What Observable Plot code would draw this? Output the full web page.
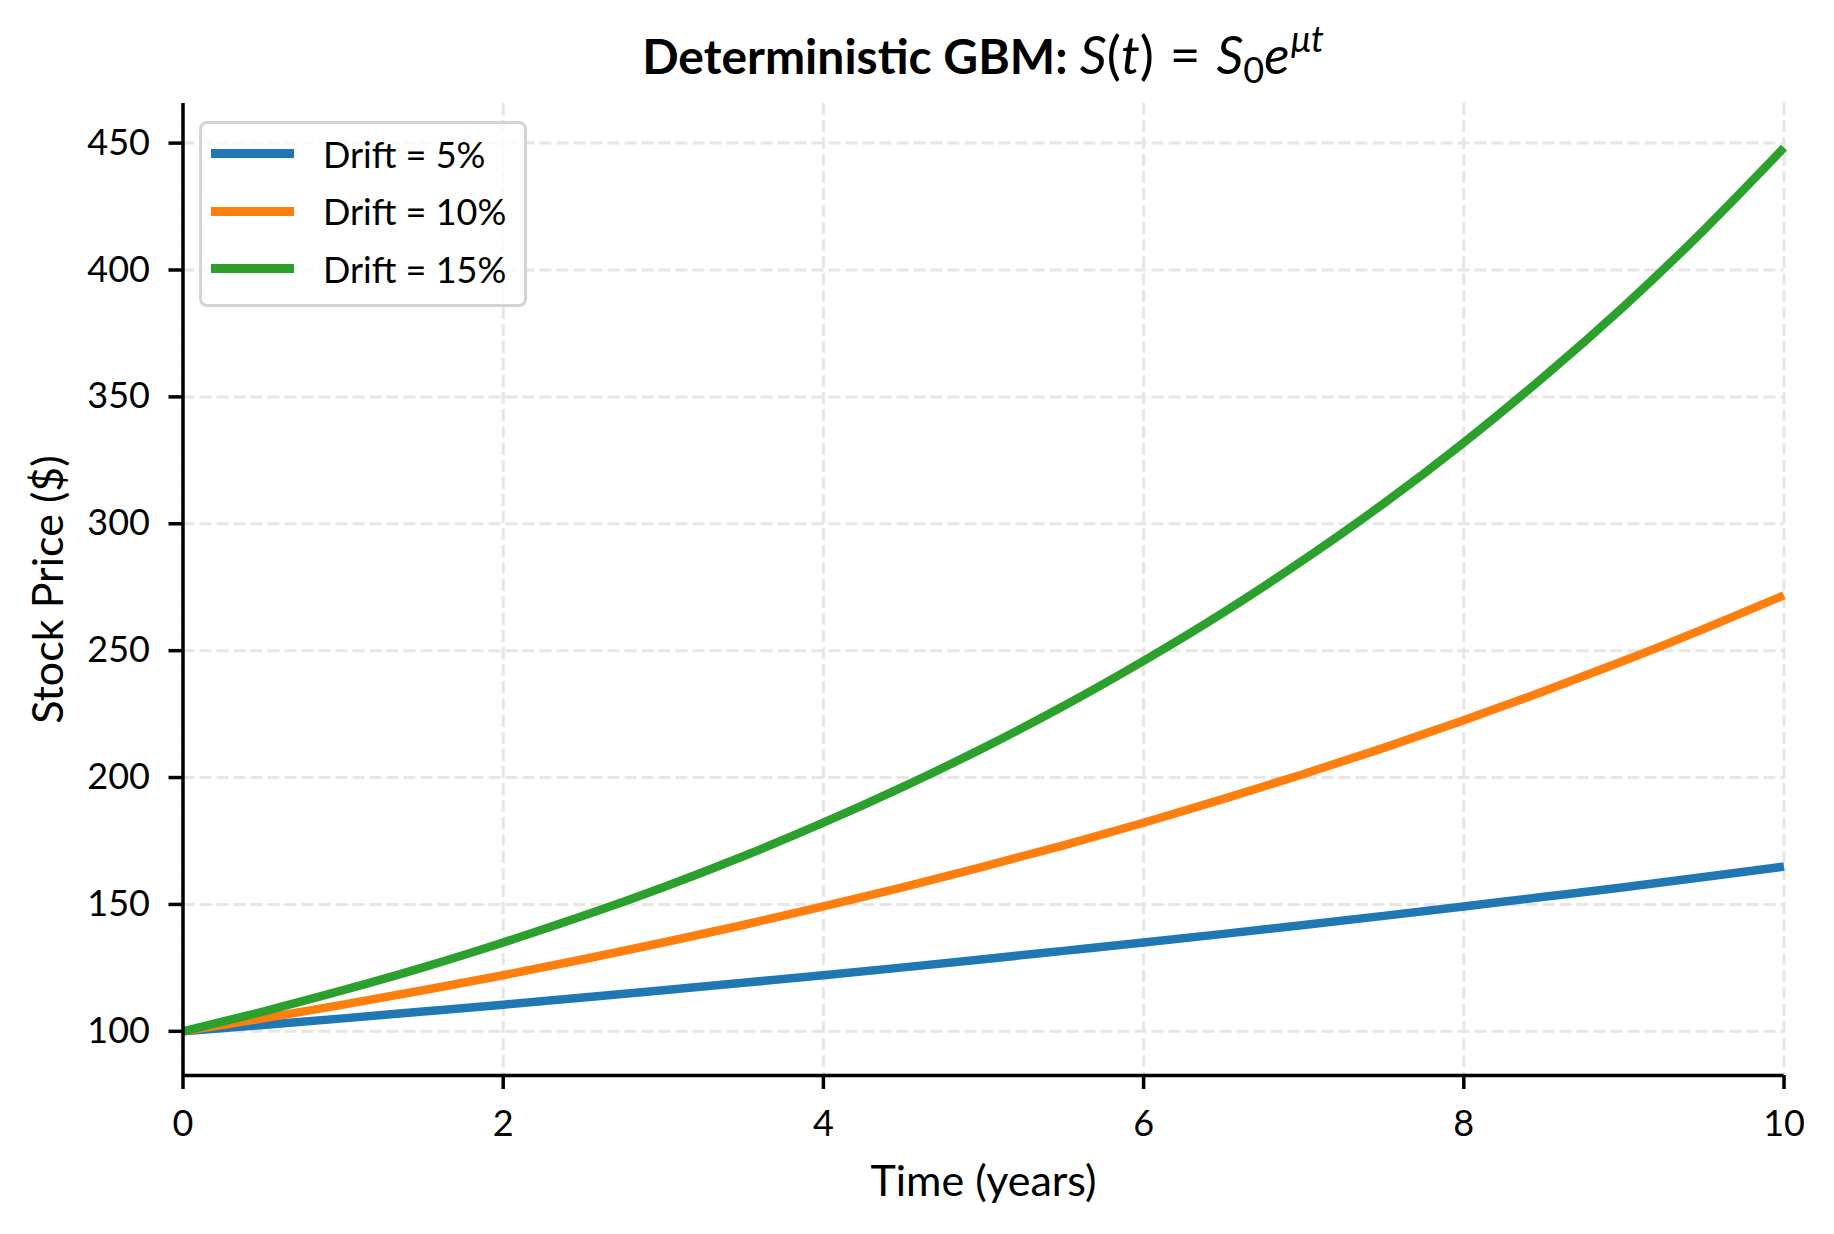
<!DOCTYPE html>
<html><head><meta charset="utf-8">
<script src="https://cdn.jsdelivr.net/npm/d3@7"></script>
<script src="https://cdn.jsdelivr.net/npm/@observablehq/plot@0.6"></script>
<style>
body{margin:0;background:#fff;}
#fig{position:relative;width:1834px;height:1234px;font-family:Lato,"Open Sans",sans-serif;color:#000;background:#fff;}
#chart{position:absolute;left:0;top:0;}
#title{position:absolute;top:27px;left:182px;width:1602px;text-align:center;font-size:48px;line-height:54px;white-space:nowrap;}
#title b{font-weight:700;}
#title i{font-style:italic;}
#title .m{font-size:53px;}
#title .eq{margin:0 0.3em;}
#title sub{font-size:0.68em;vertical-align:-0.25em;line-height:0;}
#title sup{font-size:0.68em;vertical-align:0.6em;line-height:0;margin-left:0.04em;}
#legend{position:absolute;left:199px;top:121px;width:328px;height:186px;box-sizing:border-box;border:3px solid #d4d4d4;border-radius:8px;background:rgba(255,255,255,0.8);padding-top:1px;}
#legend .row{height:57.5px;display:flex;align-items:center;}
#legend .sw{display:inline-block;width:83px;height:9px;margin-left:9px;margin-right:29px;}
#legend .lab{font-size:36px;line-height:1;white-space:nowrap;}
</style></head>
<body>
<div id="fig">
  <div id="chart"></div>
  <div id="title"><b>Deterministic GBM:</b> <span class="m"><i>S</i>(<i>t</i>)<span class="eq">=</span><i>S</i><sub>0</sub><i>e</i><sup><i>μt</i></sup></span></div>
  <div id="legend"></div>
</div>
<script>
// Time points (years)
const years = [0,0.5,1,1.5,2,2.5,3,3.5,4,4.5,5,5.5,6,6.5,7,7.5,8,8.5,9,9.5,10];
// Stock price read per series
const drift5  = [100,102.5,105.1,107.8,110.5,113.3,116.2,119.1,122.1,125.2,128.4,131.7,135.0,138.4,141.9,145.5,149.2,153.0,156.8,160.8,164.9];
const drift10 = [100,105.1,110.5,116.2,122.1,128.4,135.0,141.9,149.2,156.8,164.9,173.3,182.2,191.6,201.4,211.7,222.6,234.0,246.0,258.6,271.8];
const drift15 = [100,107.8,116.2,125.2,135.0,145.5,156.8,169.0,182.2,196.4,211.7,228.2,246.0,265.1,285.8,308.0,332.0,357.9,385.7,415.8,448.2];
const seriesLabels = ["Drift = 5%","Drift = 10%","Drift = 15%"];
const seriesColors = ["#1f77b4","#ff7f0e","#2ca02c"];
const xTicks = [0,2,4,6,8,10];
const yTicks = [100,150,200,250,300,350,400,450];

const seriesValues = [drift5, drift10, drift15];
const data = seriesValues.flatMap((vals, i) => vals.map((v, j) => ({t: years[j], price: v, series: seriesLabels[i]})));

const allVals = seriesValues.flat();
const vMin = d3.min(allVals), vMax = d3.max(allVals);
const pad = (vMax - vMin) * 0.05;
const yMin = vMin - pad, yMax = vMax + pad;

const gridStyle = {stroke:"#e6e6e6", strokeOpacity:1, strokeWidth:3, strokeDasharray:"12,5"};

const chart = Plot.plot({
  width: 1834,
  height: 1234,
  marginTop: 103,
  marginBottom: 159,
  marginLeft: 182.5,
  marginRight: 50.5,
  style: {fontFamily: "Lato, 'Open Sans', sans-serif", color: "#000", background: "transparent"},
  x: {domain: [d3.min(years), d3.max(years)]},
  y: {domain: [yMin, yMax]},
  color: {domain: seriesLabels, range: seriesColors},
  marks: [
    Plot.gridX(xTicks, gridStyle),
    Plot.gridY(yTicks, gridStyle),
    Plot.line(data, {x: "t", y: "price", stroke: "series", strokeWidth: 8.5, curve: "natural", strokeLinecap: "butt"}),
    Plot.ruleX([d3.min(years)], {stroke: "#000", strokeWidth: 3.5}),
    Plot.ruleY([yMin], {stroke: "#000", strokeWidth: 3.5}),
    Plot.axisX(xTicks, {tickSize: 14, tickPadding: 21, strokeWidth: 3.5, fontSize: 36, tickFormat: d => String(d), label: "Time (years)", labelAnchor: "center", labelOffset: 120, labelArrow: "none"}),
    Plot.axisY(yTicks, {tickSize: 14, tickPadding: 19, strokeWidth: 3.5, fontSize: 36, tickFormat: d => String(d), label: "Stock Price ($)", labelAnchor: "center", labelOffset: 151, labelArrow: "none"})
  ]
});
// enlarge axis-label text
chart.querySelectorAll("g[aria-label='x-axis label'] text, g[aria-label='y-axis label'] text").forEach(t => t.setAttribute("font-size", "43"));
document.getElementById("chart").appendChild(chart);

const legend = document.getElementById("legend");
seriesLabels.forEach((lab, i) => {
  const row = document.createElement("div");
  row.className = "row";
  const sw = document.createElement("span");
  sw.className = "sw";
  sw.style.background = seriesColors[i];
  const tx = document.createElement("span");
  tx.className = "lab";
  tx.textContent = lab;
  row.appendChild(sw); row.appendChild(tx);
  legend.appendChild(row);
});
</script>
</body></html>
